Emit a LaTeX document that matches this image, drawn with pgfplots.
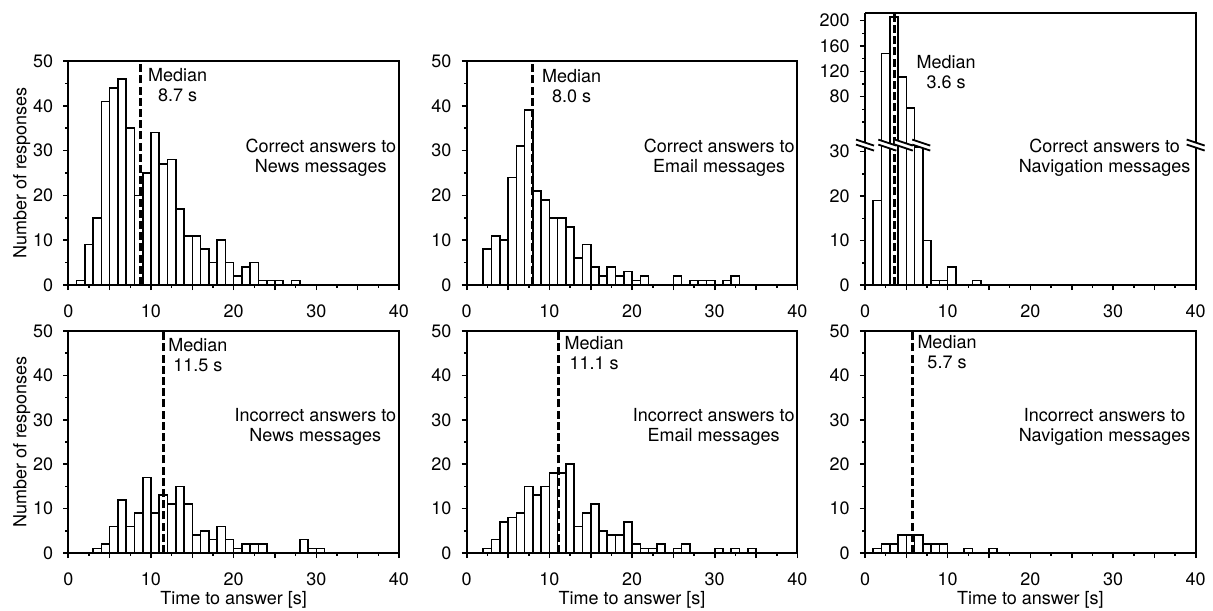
\documentclass[border=0pt]{standalone}
\usepackage{fontspec}
\setmainfont{TeX Gyre Heros}
\usepackage{pgfplots}
\usepackage{pgfplotstable}
\pgfplotsset{compat=1.18}

\pgfplotsset{
  hist/.style={
    scale only axis, width=165.35pt, height=112pt,
    xmin=0, xmax=40, ymin=0, ymax=50,
    xtick={0,5,...,40}, xticklabels={0,,10,,20,,30,,40},
    minor xtick={2.5,7.5,...,37.5},
    ytick={0,10,...,50}, minor ytick={5,15,...,45},
    tick align=outside, tick pos=left,
    major tick length=2.6pt, minor tick length=1.4pt,
    tick style={black, line width=0.8pt},
    axis line style={line width=1pt},
    tick label style={font=\fontsize{9}{10}\selectfont},
    xticklabel style={yshift=-3.5pt},
    yticklabel style={xshift=-1.5pt},
    label style={font=\fontsize{9}{10}\selectfont},
    ylabel style={yshift=-5.5pt},
    xlabel style={yshift=4pt},
    /pgf/number format/assume math mode=true,
    clip mode=individual,
  },
  mybar/.style={ybar, bar width=1, bar shift=0pt, fill=white, draw=black, line width=0.8pt},
  mymed/.style={black, line width=1.4pt, dash pattern=on 4pt off 1.6pt},
}
\tikzset{
  medlab/.style={anchor=north west, align=center, inner sep=0pt, font=\fontsize{9}{10}\selectfont},
  desc/.style={anchor=east, align=center, inner sep=0pt, font=\fontsize{9}{10}\selectfont},
}

\pgfplotstableread{
t n
1.5 19
2.5 148
3.5 206
4.5 111
5.5 62
6.5 31
7.5 10
8.5 1
9.5 1
10.5 4
13.5 1
}\navcorrect

\begin{document}
\begin{tikzpicture}
\useasboundingbox (0,0) rectangle (606.5pt,-305pt);

% Top left
\begin{axis}[hist, at={(34.15pt,-142.5pt)}, ylabel={Number of responses}]
\addplot[mybar] coordinates {(1.5,1) (2.5,9) (3.5,15) (4.5,41) (5.5,44) (6.5,46) (7.5,35) (8.5,20) (9.5,25) (10.5,34) (11.5,27) (12.5,28) (13.5,17) (14.5,11) (15.5,11) (16.5,8) (17.5,5) (18.5,10) (19.5,5) (20.5,2) (21.5,4) (22.5,5) (23.5,1) (24.5,1) (25.5,1) (27.5,1)};
\addplot[mymed] coordinates {(8.7,0) (8.7,50)};
\node[medlab] at (axis cs:9.6,48.4) {Median\\8.7 s};
\node[desc] at (axis cs:39.7,28.3) {Correct answers to\\News messages};
\end{axis}

% Top middle
\begin{axis}[hist, at={(233.35pt,-142.5pt)}]
\addplot[mybar] coordinates {(2.5,8) (3.5,11) (4.5,10) (5.5,24) (6.5,31) (7.5,39) (8.5,21) (9.5,19) (10.5,15) (11.5,15) (12.5,13) (13.5,6) (14.5,9) (15.5,4) (16.5,2) (17.5,4) (18.5,2) (19.5,3) (20.5,1) (21.5,2) (25.5,2) (27.5,1) (28.5,1) (29.5,1) (31.5,1) (32.5,2)};
\addplot[mymed] coordinates {(8.0,0) (8.0,50)};
\node[medlab] at (axis cs:9.07,48.2) {Median\\8.0 s};
\node[desc] at (axis cs:39.7,28.3) {Correct answers to\\Email messages};
\end{axis}

% Top right, lower part
\begin{axis}[hist, at={(432.5pt,-142.5pt)}, height=70pt, ymax=31.5,
  ytick={0,10,20,30}, minor ytick={5,15,25},
  axis x line*=bottom, axis y line*=left, axis line style={-, line width=1pt}]
\addplot[mybar] table[x=t,y=n] {\navcorrect};
\addplot[mymed] coordinates {(3.6,0) (3.6,31.5)};
\draw[line width=1pt] (rel axis cs:1,0) -- (rel axis cs:1,1);
\node[desc] at (axis cs:39.4,28.6) {Correct answers to\\Navigation messages};
\end{axis}

% Top right, upper part
\begin{axis}[hist, at={(432.5pt,-72.5pt)}, height=66.15pt, ymin=3.7, ymax=212.6,
  ytick={80,120,160,200}, minor ytick={40,60,100,140,180}, xtick=\empty,
  axis x line=none, axis y line*=left, axis line style={-, line width=1pt}]
\addplot[mybar, restrict y to domain=32:1000] table[x=t,y=n] {\navcorrect};
\addplot[mymed] coordinates {(3.6,3.7) (3.6,212.6)};
\draw[line width=1pt] (rel axis cs:0,1) -- (rel axis cs:1,1) -- (rel axis cs:1,0);
\node[medlab] at (axis cs:6.2,146) {Median\\3.6 s};
\pgfplotsinvokeforeach{0,2.7,4.7,6.8,40}{
  \begin{scope}[shift={(axis cs:#1,3.7)}]
    \fill[white] (-4.5pt,2.7pt) -- (4.5pt,-0.3pt) -- (4.5pt,-2.8pt) -- (-4.5pt,0.2pt) -- cycle;
    \draw[line width=0.9pt] (-4.5pt,2.7pt) -- (4.5pt,-0.3pt) (-4.5pt,0.2pt) -- (4.5pt,-2.8pt);
  \end{scope}
}
\end{axis}

% Bottom left
\begin{axis}[hist, at={(34.15pt,-276.5pt)}, height=111pt, ylabel={Number of responses}, xlabel={Time to answer [s]}]
\addplot[mybar] coordinates {(3.5,1) (4.5,2) (5.5,6) (6.5,12) (7.5,6) (8.5,9) (9.5,17) (10.5,9) (11.5,13) (12.5,11) (13.5,15) (14.5,11) (15.5,4) (16.5,5) (17.5,3) (18.5,6) (19.5,3) (20.5,1) (21.5,2) (22.5,2) (23.5,2) (28.5,3) (29.5,1) (30.5,1)};
\addplot[mymed] coordinates {(11.5,0) (11.5,50)};
\node[medlab] at (axis cs:12.06,48.4) {Median\\11.5 s};
\node[desc] at (axis cs:39.7,28.3) {Incorrect answers to\\News messages};
\end{axis}

% Bottom middle
\begin{axis}[hist, at={(233.35pt,-276.5pt)}, height=111pt, xlabel={Time to answer [s]}]
\addplot[mybar] coordinates {(2.5,1) (3.5,3) (4.5,7) (5.5,8) (6.5,9) (7.5,15) (8.5,13) (9.5,15) (10.5,18) (11.5,18) (12.5,20) (13.5,6) (14.5,9) (15.5,11) (16.5,5) (17.5,4) (18.5,4) (19.5,7) (20.5,2) (21.5,1) (22.5,1) (23.5,2) (25.5,1) (26.5,2) (30.5,1) (32.5,1) (34.5,1)};
\addplot[mymed] coordinates {(11.1,0) (11.1,50)};
\node[medlab] at (axis cs:11.8,48.8) {Median\\11.1 s};
\node[desc] at (axis cs:39.7,28.3) {Incorrect answers to\\Email messages};
\end{axis}

% Bottom right
\begin{axis}[hist, at={(432.5pt,-276.5pt)}, height=111pt, xlabel={Time to answer [s]}]
\addplot[mybar] coordinates {(1.5,1) (2.5,2) (3.5,2) (4.5,4) (5.5,4) (6.5,4) (7.5,2) (8.5,2) (9.5,2) (12.5,1) (15.5,1)};
\addplot[mymed] coordinates {(5.7,0) (5.7,50)};
\node[medlab] at (axis cs:6.3,49) {Median\\5.7 s};
\node[desc] at (axis cs:39.4,28.3) {Incorrect answers to\\Navigation messages};
\end{axis}
\end{tikzpicture}
\end{document}
